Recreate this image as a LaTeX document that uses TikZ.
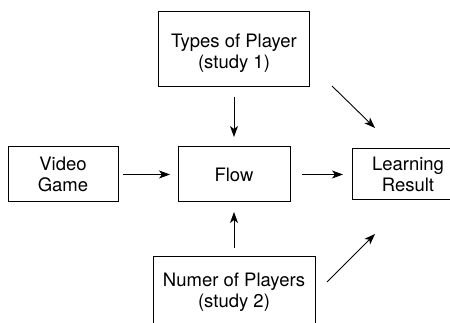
\documentclass[tikz,border=0pt]{standalone}
\usepackage{fontspec}
\setmainfont{TeX Gyre Heros}
\usetikzlibrary{arrows.meta}

\tikzset{
	box/.style={draw, line width=1pt, inner sep=0pt, outer sep=0pt, align=center},
	arr/.style={line width=0.9pt, -{Stealth[length=11pt,width=8pt,inset=3pt]}}
}

\begin{document}
\begin{tikzpicture}[x=1pt, y=1pt, font=\fontsize{18.5}{20.5}\selectfont]
			%%%%% START %%%%%
			\useasboundingbox (0, 0) rectangle (450, 323);
			
			\node[box, minimum width=151, text height=56.5, text depth=18.5] (types) at (234, 273.5) {Types of Player\\(study 1)};
			\node[box, minimum width=110, minimum height=55] (video) at (63, 148.5) {Video\\Game};
			\node[box, minimum width=112, minimum height=55] (flow) at (234, 148.5) {Flow};
			\node[box, minimum width=112, minimum height=51] (learning) at (408, 148.5) {Learning\\Result};
			\node[box, minimum width=162, text height=50.5, text depth=22.5] (numer) at (234, 29.5) {Numer of Players\\(study 2)};
			
			\draw[arr, shorten <=5, shorten >=8] (video) -- (flow);
			\draw[arr, shorten <=12, shorten >=9] (flow) -- (learning);
			\draw[arr, shorten <=10, shorten >=10] (types) -- (flow);
			\draw[arr, shorten <=9, shorten >=10] (numer) -- (flow);
			
			% the two slanted arrows
			\coordinate (t1) at (332, 237);
			\coordinate (t2) at (375, 195);
			\coordinate (n1) at (327, 41);
			\coordinate (n2) at (375, 89);
			\draw[arr] (t1) -- (t2);
			\draw[arr] (n1) -- (n2);
			
			%%%%% END %%%%%
		\end{tikzpicture}
\end{document}
